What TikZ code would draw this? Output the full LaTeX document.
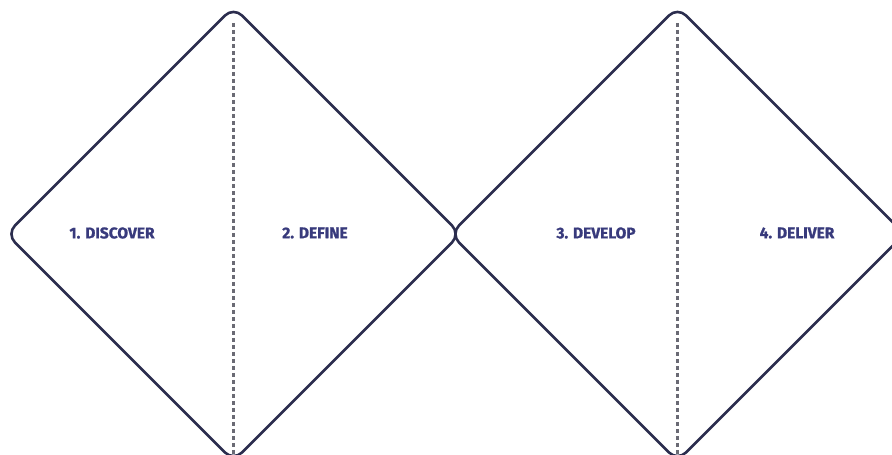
\documentclass[tikz,border=0pt]{standalone}
\usepackage{fontspec}
\setmainfont{Fira Sans}
\newfontfamily\phasefont[FakeBold=1.2]{Fira Sans}
\begin{document}
\begin{tikzpicture}[x=1pt,y=1pt,
  diam/.style={draw=outline,line width=2.6pt,rounded corners=12pt,line join=round},
  divider/.style={draw=dashgray,line width=2.4pt,dash pattern=on 4pt off 3pt},
  phase/.style={font=\phasefont\bfseries\fontsize{15.5}{18}\selectfont,text=phasetext,inner sep=0pt}]
\definecolor{outline}{HTML}{2B2D4E}
\definecolor{dashgray}{HTML}{6A6A74}
\definecolor{phasetext}{HTML}{383A7C}
\useasboundingbox (0,0) rectangle (892,455);
\clip (0,0) rectangle (892,455);
\draw[diam] (6.5,221) -- (233.5,448) -- (460.5,221) -- (233.5,-6) -- cycle;
\draw[diam] (450.5,221) -- (677.5,448) -- (904.5,221) -- (677.5,-6) -- cycle;
\coordinate (ltop) at (233.5,432);
\coordinate (lbot) at (233.5,0);
\coordinate (rtop) at (677.5,432);
\coordinate (rbot) at (677.5,0);
\draw[divider] (ltop) -- (lbot);
\draw[divider] (rtop) -- (rbot);
\node[phase] (p1) at (112,222) {1. DISCOVER};
\node[phase] (p2) at (315,222) {2. DEFINE};
\node[phase] (p3) at (596,222) {3. DEVELOP};
\node[phase] (p4) at (797,222) {4. DELIVER};
\end{tikzpicture}
\end{document}
